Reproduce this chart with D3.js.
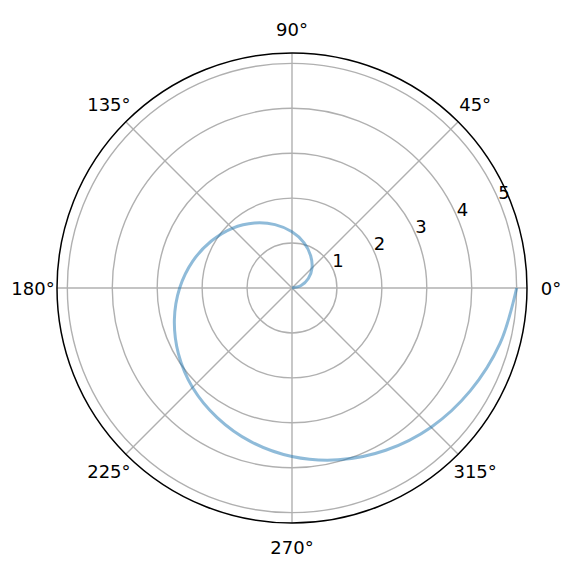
<!DOCTYPE html>
<html><head><meta charset="utf-8">
<script src="https://cdn.jsdelivr.net/npm/d3@7/dist/d3.min.js"></script>
<style>body{margin:0;background:#fff}svg{display:block}</style>
</head><body>
<svg id="c" width="576" height="574"></svg>
<script>
// spiral samples: angle (degrees) and radius
const thetaDeg = [0,15,30,45,60,75,90,105,120,135,150,165,180,195,210,225,240,255,270,285,300,315,330,345,360];
const rValues  = [0,0.21,0.42,0.63,0.83,1.04,1.25,1.46,1.67,1.88,2.08,2.29,2.5,2.71,2.92,3.13,3.33,3.54,3.75,3.96,4.17,4.38,4.58,4.79,5.0];
const rTicks = [1,2,3,4,5];
const angleTicks = [0,45,90,135,180,225,270,315];
const angleLabels = ["0°","45°","90°","135°","180°","225°","270°","315°"];
const rMax = 5.23;

const cx = 292, cy = 288, R = 235;
const svg = d3.select("#c");
const g = svg.append("g").attr("transform", `translate(${cx},${cy})`);
const r = d3.scaleLinear().domain([0, rMax]).range([0, R]);
const toRad = d => d * Math.PI / 180;

// grid circles
g.selectAll("circle.grid").data(rTicks).join("circle")
  .attr("r", d => r(d)).attr("fill", "none")
  .attr("stroke", "#b0b0b0").attr("stroke-width", 1.4);
// spokes
g.selectAll("line.spoke").data(angleTicks).join("line")
  .attr("x1", 0).attr("y1", 0)
  .attr("x2", d => R * Math.cos(toRad(d)))
  .attr("y2", d => -R * Math.sin(toRad(d)))
  .attr("stroke", "#b0b0b0").attr("stroke-width", 1.4);

// spiral
const line = d3.lineRadial()
  .angle((d, i) => Math.PI / 2 - toRad(thetaDeg[i]))
  .radius((d, i) => r(rValues[i]))
  .curve(d3.curveCatmullRom);
g.append("path").datum(rValues).attr("d", line)
  .attr("fill", "none").attr("stroke", "#1f77b4").attr("stroke-opacity", 0.5)
  .attr("stroke-width", 3);

// outer spine
g.append("circle").attr("r", R).attr("fill", "none")
  .attr("stroke", "#000").attr("stroke-width", 1.5);

const font = "DejaVu Sans, sans-serif";
// angle labels
g.selectAll("text.ang").data(angleTicks).join("text")
  .attr("x", d => 259 * Math.cos(toRad(d)))
  .attr("y", d => -259 * Math.sin(toRad(d)))
  .attr("text-anchor", "middle").attr("dominant-baseline", "central")
  .attr("font-family", font).attr("font-size", 18).attr("fill", "#000")
  .text((d, i) => angleLabels[i]);
// radial labels at 22.5°
g.selectAll("text.rl").data(rTicks).join("text")
  .attr("x", d => r(d) * Math.cos(toRad(22.5)) + 4.5)
  .attr("y", d => -r(d) * Math.sin(toRad(22.5)) - 10)
  .attr("text-anchor", "middle").attr("dominant-baseline", "central")
  .attr("font-family", font).attr("font-size", 18).attr("fill", "#000")
  .text(d => d);
</script>
</body></html>
